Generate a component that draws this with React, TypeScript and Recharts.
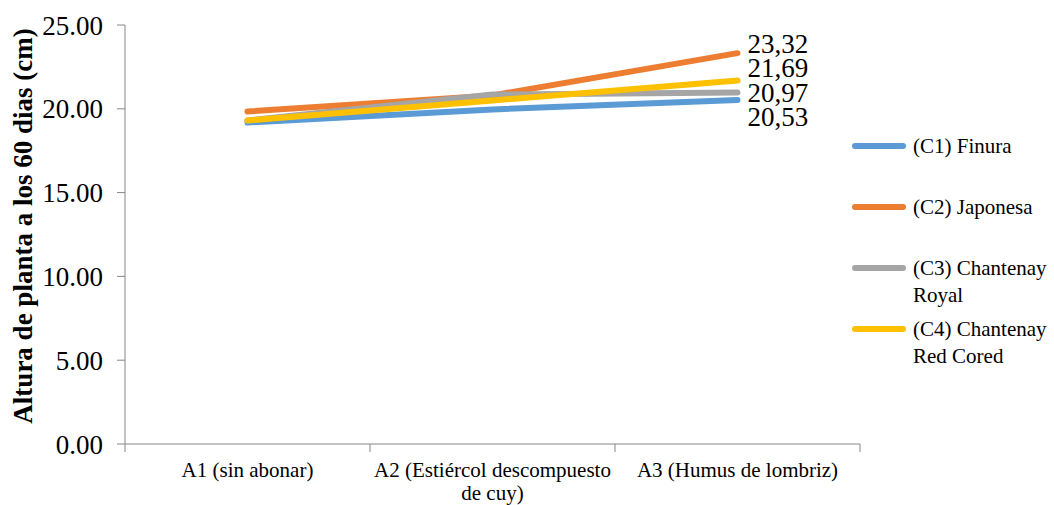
import React from 'react';
import { LineChart, Line, XAxis, YAxis, Legend, LabelList, Label } from 'recharts';

const categories = ['A1 (sin abonar)', 'A2 (Estiércol descompuesto de cuy)', 'A3 (Humus de lombriz)'];
const seriesNames = ['(C1) Finura', '(C2) Japonesa', '(C3) Chantenay Royal', '(C4) Chantenay Red Cored'];
const c1 = [19.18, 19.96, 20.53];
const c2 = [19.84, 20.8, 23.32];
const c3 = [19.3, 20.85, 20.97];
const c4 = [19.3, 20.5, 21.69];
const yTicks = [0, 5, 10, 15, 20, 25];
const yLabel = 'Altura de planta a los 60 dias (cm)';

const seriesValues = [c1, c2, c3, c4];
const keys = ['c1', 'c2', 'c3', 'c4'];
const colors = ['#5B9BD5', '#ED7D31', '#A5A5A5', '#FFC000'];
const labelDy = [17, -9, 0, -12];
const FONT = '"Liberation Serif", "Times New Roman", serif';

const data = categories.map((name, i) => {
  const row: any = { x: i + 0.5, name };
  keys.forEach((k, s) => {
    row[k] = seriesValues[s][i];
  });
  return row;
});

const xTicks = [0, 0.5, 1, 1.5, 2, 2.5, 3];

function wrap(text: string, maxChars: number): string[] {
  const words = text.split(' ');
  const lines: string[] = [];
  let cur = '';
  words.forEach((w) => {
    const cand = cur ? cur + ' ' + w : w;
    if (cand.length > maxChars && cur) {
      lines.push(cur);
      cur = w;
    } else {
      cur = cand;
    }
  });
  if (cur) lines.push(cur);
  return lines;
}

const CatTick = (props: any) => {
  const { x, y, payload } = props;
  const v = payload.value;
  if (Math.abs(v - Math.round(v)) < 1e-6) {
    return <line x1={x} x2={x} y1={y} y2={y + 8} stroke="#868686" strokeWidth={1} />;
  }
  const label = categories[Math.floor(v)];
  const lines = wrap(label, 26);
  return (
    <text x={x} y={y + 33} textAnchor="middle" fontSize={21} fontFamily={FONT} fill="#000">
      {lines.map((l, i) => (
        <tspan key={i} x={x} dy={i === 0 ? 0 : 23}>
          {l}
        </tspan>
      ))}
    </text>
  );
};

const makeEndLabel = (s: number) => (props: any) => {
  const { x, y, value, index } = props;
  if (index !== categories.length - 1) return null;
  return (
    <text
      x={x + 10}
      y={y + labelDy[s]}
      dominantBaseline="central"
      fontSize={27}
      fontFamily={FONT}
      fill="#000"
    >
      {Number(value).toFixed(2).replace('.', ',')}
    </text>
  );
};

const LegendContent = () => (
  <div style={{ fontFamily: FONT, fontSize: 21, color: '#000' }}>
    {seriesNames.map((n, i) => (
      <div key={i} style={{ height: 61, position: 'relative' }}>
        <div
          style={{
            position: 'absolute',
            left: 2,
            top: 10,
            width: 54,
            height: 6,
            borderRadius: 3,
            background: colors[i],
          }}
        />
        <div style={{ position: 'absolute', left: 63, top: 0, lineHeight: '27px', whiteSpace: 'nowrap' }}>
          {wrap(n, 14).map((l, j) => (
            <div key={j}>{l}</div>
          ))}
        </div>
      </div>
    ))}
  </div>
);

export default function App() {
  return (
    <div style={{ position: 'absolute', left: 0, top: 0, background: '#fff' }}>
      <LineChart
        width={1054}
        height={505}
        data={data}
        margin={{ top: 25, right: 194, bottom: 21, left: 0 }}
        style={{ fontFamily: FONT }}
      >
        <XAxis
          dataKey="x"
          type="number"
          domain={[0, 3]}
          ticks={xTicks}
          interval={0}
          tickLine={false}
          tickSize={0}
          tickMargin={0}
          height={40}
          axisLine={{ stroke: '#868686' }}
          tick={<CatTick />}
        />
        <YAxis
          domain={[0, 25]}
          ticks={yTicks}
          interval={0}
          width={125}
          tickSize={8}
          tickMargin={14}
          tickFormatter={(v: number) => v.toFixed(2)}
          tick={{ fontSize: 27, fill: '#000', fontFamily: FONT }}
          axisLine={{ stroke: '#868686' }}
          tickLine={{ stroke: '#868686' }}
        >
          <Label
            content={() => (
              <text
                x={23}
                y={226}
                transform="rotate(-90 23 226)"
                textAnchor="middle"
                dominantBaseline="central"
                fontSize={27}
                fontWeight="bold"
                fontFamily={FONT}
                fill="#000"
              >
                {yLabel}
              </text>
            )}
          />
        </YAxis>
        <Legend
          layout="horizontal"
          verticalAlign="middle"
          align="center"
          content={<LegendContent />}
          wrapperStyle={{ left: 850, top: 133, width: 204, height: 250 }}
        />
        {keys.map((k, s) => (
          <Line
            key={k}
            dataKey={k}
            name={seriesNames[s]}
            stroke={colors[s]}
            strokeWidth={6}
            strokeLinecap="round"
            dot={false}
            activeDot={false}
            isAnimationActive={false}
          >
            <LabelList dataKey={k} content={makeEndLabel(s)} />
          </Line>
        ))}
      </LineChart>
    </div>
  );
}
